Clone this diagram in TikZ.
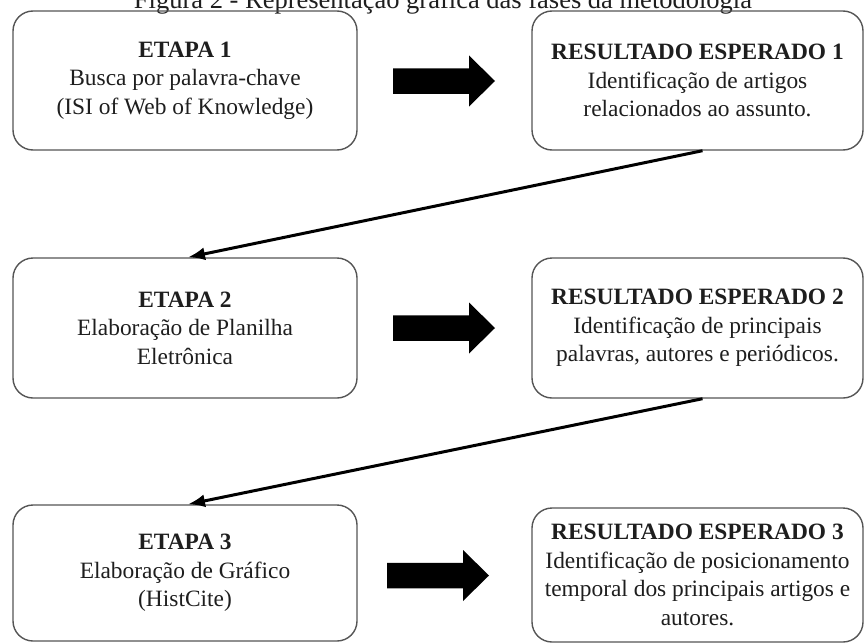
\documentclass[tikz,border=0pt]{standalone}
\usepackage{fontspec}
\setmainfont{Liberation Serif}
\usetikzlibrary{arrows.meta}
\definecolor{boxline}{HTML}{555555}
\definecolor{txt}{HTML}{1E1E1E}
\begin{document}
\begin{tikzpicture}[x=1pt,y=-1pt,
  box/.style={draw=boxline, line width=1.4pt, rounded corners=20pt, align=center,
    text=txt, font=\fontsize{23.4}{28.5}\selectfont, inner sep=0pt},
  flow/.style={line width=3pt, -{Latex[length=17pt,width=13pt]}},
  blockarrow/.pic={\fill (0,-12.75) -- (76,-12.75) -- (76,-25.5) -- (102,0) -- (76,25.5) -- (76,12.75) -- (0,12.75) -- cycle;}
]
\useasboundingbox (0,0) rectangle (864,642);
\node[anchor=base, font=\fontsize{26.5}{30}\selectfont, text=txt] (title) at (443,9) {Figura 2 - Representação gráfica das fases da metodologia};

\node[box, minimum width=344pt, minimum height=139pt] (e1) at (185,80.5)
  {\textbf{ETAPA 1}\\Busca por palavra-chave\\(ISI of Web of Knowledge)};
\node[box, minimum width=331pt, minimum height=139pt] (r1) at (697.5,80.5)
  {\textbf{RESULTADO ESPERADO 1}\\Identificação de artigos\\relacionados ao assunto.};

\node[box, minimum width=344pt, minimum height=140pt] (e2) at (185,328)
  {\textbf{ETAPA 2}\\Elaboração de Planilha\\Eletrônica};
\node[box, minimum width=331pt, minimum height=140pt] (r2) at (697.5,328)
  {\textbf{RESULTADO ESPERADO 2}\\Identificação de principais\\palavras, autores e periódicos.};

\node[box, minimum width=344pt, minimum height=136pt] (e3) at (185,573)
  {\textbf{ETAPA 3}\\Elaboração de Gráfico\\(HistCite)};
\node[box, minimum width=331pt, minimum height=134pt] (r3) at (697.5,575)
  {\textbf{RESULTADO ESPERADO 3}\\Identificação de posicionamento\\temporal dos principais artigos e\\autores.};

\pic at (393,81) {blockarrow};
\pic at (393,328) {blockarrow};
\pic at (387,575.5) {blockarrow};

\draw[flow] ([xshift=5pt]r1.south) -- ([xshift=3pt]e2.north);
\draw[flow] ([xshift=5pt]r2.south) -- ([xshift=3pt]e3.north);
\end{tikzpicture}
\end{document}
